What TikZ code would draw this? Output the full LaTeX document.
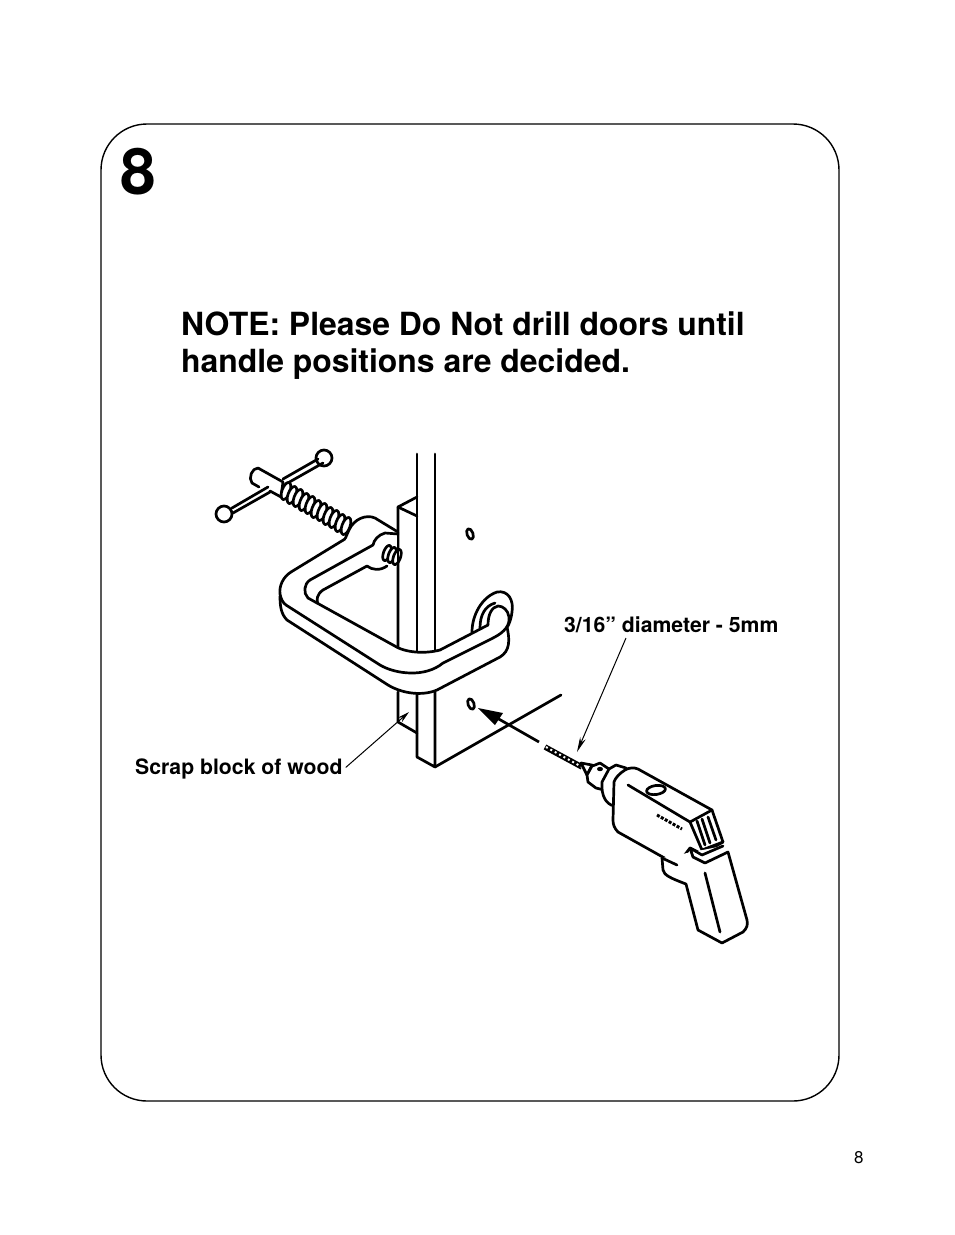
\documentclass[tikz,border=0pt]{standalone}
\usepackage{fontspec}
\setmainfont{TeX Gyre Heros}
\usetikzlibrary{arrows.meta}
\tikzset{
  ink/.style={line width=2.7pt,line cap=round,line join=round,black},
  label text/.style={font=\fontsize{21.2}{24}\selectfont\bfseries,inner sep=0pt,anchor=base west},
  leader/.style={line width=1pt,-{Stealth[length=15pt,width=6pt]}},
}
\begin{document}
\begin{tikzpicture}[x=1pt,y=-1pt]
\useasboundingbox (0,0) rectangle (954,1235);
\fill[white] (0,0) rectangle (954,1235);
\draw[line width=1.4pt,rounded corners=46pt] (101,124) rectangle (839,1101);
\node[inner sep=0pt,anchor=base west,font=\fontsize{64}{70}\selectfont\bfseries] (num) at (120,194) {8};
\node[inner sep=0pt,anchor=base west,font=\fontsize{31.9}{37}\selectfont\bfseries] (n1) at (181,335) {NOTE: Please Do Not drill doors until};
\node[inner sep=0pt,anchor=base west,font=\fontsize{31.9}{37}\selectfont\bfseries] (n2) at (181,372) {handle positions are decided.};
\node[label text] (dia) at (564,632) {3/16” diameter - 5mm};
\node[label text] (scrap) at (135,774) {Scrap block of wood};
\node[inner sep=0pt,anchor=base west,font=\fontsize{17}{20}\selectfont] (page) at (854,1163) {8};

% door and block
\draw[ink] (417,454) -- (417,651) (435,454) -- (435,651);
\draw[ink] (417,694) -- (417,757) -- (435,767) -- (435,692);
\draw[ink] (435,767) -- (561,695);
\draw[ink] (398,507) -- (398,648) (398,692) -- (398,722) -- (417,733);
\draw[ink] (398,507) -- (417,497) (398,507) -- (417,516);
\draw[ink,rotate around={20:(470,534)}] (470,534) ellipse [x radius=3,y radius=5.5];
\draw[ink,rotate around={20:(471,704)}] (471,704) ellipse [x radius=3,y radius=5.5];

% T-bar
\draw[ink,fill=white] (324,458) circle (8);
\draw[ink] (283,479) -- (318,459) (286,484) -- (323,463);
\draw[ink] (268,487) -- (232,508) (270,492) -- (233,513);
\draw[ink,fill=white] (224,514) circle (8);
\draw[ink] (258,468) .. controls (252,468) and (248,478) .. (252,483) -- (259,487);
\draw[ink] (258,468) -- (283,482) -- (281,497) -- (270,491);

% thread
\foreach \x/\y in {286/491,292/495,298/498,304/502,310/505,316/509,322/512,328/516,334/519,340/523,346/526}
  \draw[ink,fill=white,rotate around={-20:(\x,\y)}] (\x,\y) ellipse [x radius=4,y radius=9];

% jaw
\draw[fill=white,draw=none] (345,539) -- (352,525) -- (372,517) -- (398,533) -- (398,566) -- (385,568) -- (367,566) -- (373,545) -- cycle;
\draw[ink] (345,539) -- (349,530) .. controls (354,519) and (366,514) .. (375,518) -- (398,532);
\draw[ink] (398,534) -- (385,533) .. controls (378,535) and (374,540) .. (373,545);
\draw[ink] (367,566) .. controls (372,570) and (380,571) .. (387,566);
\foreach \x/\y in {387/553,392/555,397/557}
  \draw[ink,fill=white,rotate around={-20:(\x,\y)}] (\x,\y) ellipse [x radius=3.5,y radius=8];
\draw[ink] (398,534) -- (398,648);
\draw[ink] (367,566) -- (323,590) .. controls (317,594) and (316,600) .. (318,604);

% disk behind the hook
\draw[ink,fill=white] (472,632) .. controls (472,615) and (482,597) .. (497,592)
  .. controls (508,590) and (514,600) .. (512,612) .. controls (511,620) and (509,624) .. (507,628) -- (487,645) -- cycle;
\draw[ink] (480,628) .. controls (480,615) and (485,606) .. (495,603);

% handle: white area first, then its edges
\fill[white] (345,539) -- (291,572) .. controls (283,577) and (279,586) .. (280,596) .. controls (280,606) and (281,614) .. (287,620) -- (388,685)
  .. controls (403,694) and (423,696) .. (437,690) -- (500,657) .. controls (510,651) and (510,640) .. (508,625)
  -- (509,617) .. controls (508,610) and (503,606) .. (498,606) .. controls (492,607) and (488,614) .. (488,625)
  -- (440,650) .. controls (425,654) and (405,653) .. (393,645) -- (308,598) .. controls (303,593) and (304,584) .. (310,580) -- (373,545) -- cycle;
\draw[ink] (345,539) -- (291,572) .. controls (283,577) and (279,586) .. (280,594) .. controls (281,599) and (283,603) .. (286,605)
  -- (380,665) .. controls (395,674) and (425,678) .. (443,663) -- (493,638) .. controls (505,632) and (510,625) .. (509,617)
  .. controls (508,610) and (503,606) .. (498,606) .. controls (492,607) and (488,614) .. (488,625);
\draw[ink] (373,545) -- (310,580) .. controls (304,584) and (303,593) .. (308,598) -- (393,645)
  .. controls (405,653) and (425,654) .. (440,650) -- (488,625);
\draw[ink] (280,596) .. controls (280,606) and (281,614) .. (287,620) -- (388,685) .. controls (403,694) and (423,696) .. (437,690) -- (500,657)
  .. controls (510,651) and (510,640) .. (507,627);

% arrow
\coordinate (arrowEnd) at (539,742);
\coordinate (hole) at (478,708);
\draw[line width=2.7pt] (arrowEnd) -- (497,718);
\fill (hole) -- (503,713) -- (495,725) -- cycle;

% drill
\draw[line width=5.5pt] (545,747) -- (582,767);
\draw[white,line width=2pt,dash pattern=on 2pt off 3pt] (546,747) -- (582,767);
\draw[ink,fill=white] (581,763) -- (592,765) -- (587,775) -- cycle;
\draw[ink,fill=white] (595,765) -- (600,763) -- (609,769) -- (604,790) -- (596,788) -- (588,782) -- (587,775) -- (592,766) -- cycle;
\fill (600,769) ellipse [x radius=3,y radius=2.2];
\draw[ink,fill=white] (609,769) -- (616,765) -- (626,768) -- (614,806) .. controls (606,804) and (601,796) .. (602,782) -- cycle;
\draw[ink,fill=white] (625,770) .. controls (628,768) and (634,767) .. (638,769) -- (712,810) -- (723,842) -- (702,854) -- (690,848) -- (677,865)
  -- (618,832) .. controls (614,828) and (613,824) .. (613,820) -- (614,782) .. controls (615,778) and (620,773) .. (625,770) -- cycle;
\draw[ink] (628,785) -- (690,822) -- (712,810) (690,822) -- (702,850) -- (723,842);
\draw[ink,rotate around={8:(656,790)}] (656,790) ellipse [x radius=9.5,y radius=4.5];
\draw[line width=3pt,dash pattern=on 3pt off 1.5pt] (657,815) -- (682,829);
\draw[ink] (697,821) -- (705,845) (702,819) -- (710,843) (708,817) -- (716,840);
\draw[ink,fill=white] (662,858) -- (663,870) .. controls (664,875) and (670,878) .. (686,884) -- (698,930)
  -- (722,943) -- (743,932) .. controls (747,928) and (748,925) .. (747,920) -- (728,852) -- (705,863) -- (693,857) -- (690,848) -- (702,855) -- (723,846);
\draw[ink] (705,873) -- (720,932);
\draw[ink] (662,858) -- (677,865);

% leaders
\coordinate (diaStart) at (626,638);
\coordinate (diaTip) at (577,752);
\coordinate (scrapTip) at (409,712);
\draw[leader] (diaStart) -- (diaTip);
\draw[leader,-{Stealth[length=12pt,width=6pt]}] (scrap.east) ++(3,-1) -- (scrapTip);
\end{tikzpicture}
\end{document}
